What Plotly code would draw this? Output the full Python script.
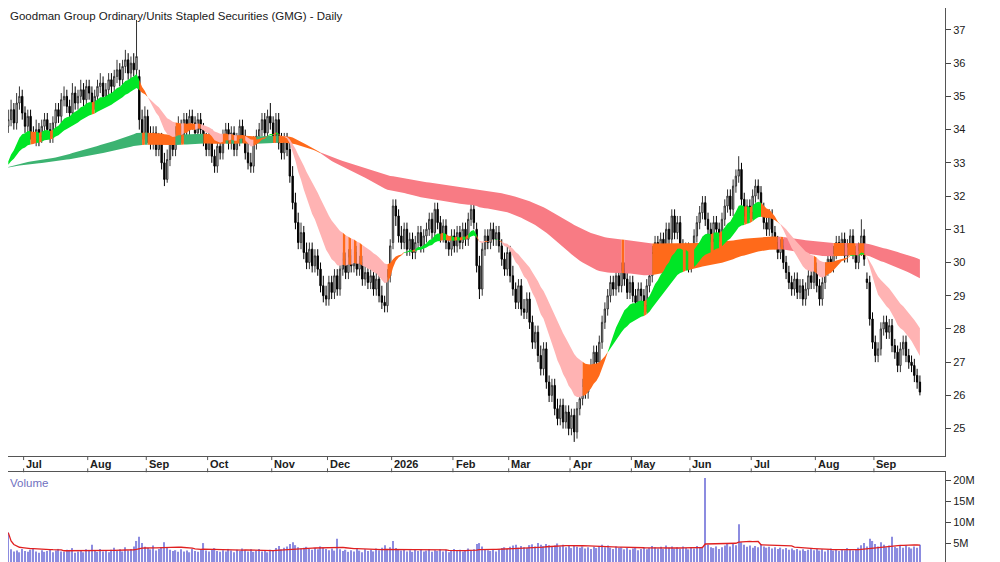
import pandas as pd
import plotly.graph_objects as go

title = "Goodman Group Ordinary/Units Stapled Securities (GMG) - Daily"
start_date = "2025-06-23"
ema_seed = 32.85

closes = [
    34.3, 34.6, 34.2, 34.8, 35.0, 34.5, 34.1, 34.4, 33.9, 33.8,
    34.0, 33.7, 34.1, 34.3, 34.0, 33.8, 34.2, 34.6, 34.4, 34.9,
    35.0, 34.7, 34.5, 35.1, 34.8, 35.0, 35.2, 34.9, 35.3, 35.1,
    34.8, 35.0, 35.3, 35.4, 35.0, 35.2, 35.5, 35.3, 35.6, 35.8,
    35.5, 35.9, 36.1, 35.7, 36.0, 35.8, 36.2, 34.3, 33.9, 34.4,
    33.8, 33.6, 33.9, 33.4, 33.7, 33.0, 32.5, 33.1, 33.6, 33.4,
    33.9, 34.1, 33.8, 34.3, 34.0, 34.4, 34.2, 33.9, 34.3, 34.0,
    33.7, 33.4, 33.8, 33.2, 32.9, 33.5, 33.3, 33.8, 34.0, 33.6,
    33.9, 33.4, 33.7, 34.1, 33.8, 33.3, 33.0, 32.9, 33.6, 33.8,
    34.0, 34.3, 33.9, 34.4, 34.2, 33.8, 34.3, 33.6, 33.3, 33.7,
    33.4, 32.6, 31.8, 31.2, 30.6, 30.9, 30.3, 30.0, 30.4, 29.9,
    30.2, 29.8, 29.3, 29.0, 28.9, 29.4, 29.1, 29.6, 29.2, 29.8,
    30.1, 29.7, 30.2, 29.9, 30.3, 29.8, 30.0, 29.5, 29.7, 29.4,
    29.6, 29.2, 29.5, 29.0, 28.8, 28.7, 29.6, 30.5, 31.7, 31.4,
    30.8, 30.6, 31.0, 30.4, 30.7, 30.3, 30.6, 30.9, 30.5, 30.8,
    31.0, 31.3, 30.9, 31.6, 31.2, 30.8, 31.1, 30.6, 30.4, 30.8,
    30.5, 30.9, 30.6, 31.0, 30.7, 31.3, 31.6, 31.2, 29.9, 29.2,
    30.4, 30.8, 30.6, 31.0, 30.7, 30.9, 30.5, 30.1, 29.8, 30.3,
    29.6, 29.2, 28.8, 29.3, 28.6, 28.5, 28.9, 28.2, 27.6, 27.9,
    27.2, 26.8, 27.4, 26.4, 26.0, 26.3, 25.6, 25.3, 25.7, 25.2,
    25.5, 25.0, 25.4, 24.9, 25.6, 25.9, 26.3, 26.1, 26.7, 26.9,
    27.3, 27.0, 27.6, 28.2, 28.6, 29.0, 29.4, 29.2, 29.6, 29.3,
    29.8, 29.5, 29.1, 29.4, 29.0, 28.8, 29.2, 29.0, 28.7, 29.3,
    29.6, 30.3, 30.6, 30.2, 30.7, 30.4, 31.0, 30.7, 31.4, 30.9,
    31.2, 30.5, 30.1, 30.4, 29.9, 30.3, 30.8, 31.2, 31.5, 31.8,
    31.3, 31.0, 30.7, 31.2, 31.0, 30.8, 31.3, 31.7, 32.0, 31.6,
    32.3, 32.6, 32.8, 31.9, 31.4, 31.7, 31.5, 32.0, 32.3, 32.1,
    31.6, 31.2, 31.0, 31.4, 30.9, 30.6, 30.3, 30.5, 30.0, 29.7,
    29.4, 29.2, 29.5, 29.1, 29.3, 28.9, 29.2, 29.6, 29.4, 29.8,
    29.3, 28.9, 29.4, 29.8, 30.1, 29.9, 30.3, 30.6, 30.4, 30.7,
    30.2, 30.5, 30.8, 30.3, 30.0, 30.4, 30.8, 30.1, 29.4, 28.3,
    27.6, 27.2, 27.4, 28.0, 28.2, 27.9, 28.1, 27.5, 27.3, 26.9,
    27.4, 27.6, 27.2, 27.0, 26.9, 26.6, 26.4, 26.1,
]

opens = [
    34.1, 34.3, 34.6, 34.2, 34.8, 35.0, 34.5, 34.1, 34.4, 33.9,
    33.7, 34.0, 33.8, 34.1, 34.3, 34.0, 33.8, 34.2, 34.6, 34.4,
    34.9, 35.0, 34.7, 34.5, 35.1, 34.8, 35.0, 35.2, 34.9, 35.3,
    35.1, 34.8, 35.0, 35.3, 35.4, 35.0, 35.2, 35.5, 35.3, 35.6,
    35.8, 35.5, 35.9, 36.1, 35.7, 36.0, 35.8, 35.6, 34.3, 33.9,
    34.4, 33.8, 33.6, 33.9, 33.4, 33.7, 33.0, 32.5, 33.1, 33.6,
    33.4, 33.9, 34.1, 33.8, 34.3, 34.0, 34.4, 34.2, 33.9, 34.3,
    34.0, 33.7, 33.4, 33.8, 33.2, 32.9, 33.5, 33.3, 33.8, 34.0,
    33.6, 33.9, 33.4, 33.7, 34.1, 33.8, 33.3, 33.0, 32.9, 33.6,
    33.8, 34.0, 34.3, 33.9, 34.4, 34.2, 33.8, 34.3, 33.6, 33.3,
    33.7, 33.4, 32.6, 31.8, 31.2, 30.6, 30.9, 30.3, 30.0, 30.4,
    29.9, 30.2, 29.8, 29.3, 29.0, 28.9, 29.4, 29.1, 29.6, 29.2,
    29.8, 30.1, 29.7, 30.2, 29.9, 30.3, 29.8, 30.0, 29.5, 29.7,
    29.4, 29.6, 29.2, 29.5, 29.0, 28.8, 28.7, 29.6, 30.6, 31.7,
    31.4, 30.8, 30.6, 31.0, 30.4, 30.7, 30.3, 30.6, 30.9, 30.5,
    30.8, 31.0, 31.3, 30.9, 31.6, 31.2, 30.8, 31.1, 30.6, 30.4,
    30.8, 30.5, 30.9, 30.6, 31.0, 30.7, 31.3, 31.6, 31.0, 29.9,
    29.2, 30.4, 30.8, 30.6, 31.0, 30.7, 30.9, 30.5, 30.1, 29.8,
    30.3, 29.6, 29.2, 28.8, 29.3, 28.6, 28.5, 28.9, 28.2, 27.6,
    27.9, 27.2, 26.8, 27.4, 26.4, 26.0, 26.3, 25.6, 25.3, 25.7,
    25.2, 25.5, 25.0, 25.4, 24.9, 25.6, 25.9, 26.3, 26.1, 26.7,
    26.9, 27.3, 27.0, 27.6, 28.2, 28.6, 29.0, 29.4, 29.2, 29.6,
    29.3, 29.8, 29.5, 29.1, 29.4, 29.0, 28.8, 29.2, 29.0, 28.7,
    29.3, 29.6, 30.3, 30.6, 30.2, 30.7, 30.4, 31.0, 30.7, 31.4,
    30.9, 31.2, 30.5, 30.1, 30.4, 29.9, 30.3, 30.8, 31.2, 31.5,
    31.8, 31.3, 31.0, 30.7, 31.2, 31.0, 30.8, 31.3, 31.7, 32.0,
    31.6, 32.3, 32.6, 32.8, 31.9, 31.4, 31.7, 31.5, 32.0, 32.3,
    32.1, 31.6, 31.2, 31.0, 31.4, 30.9, 30.6, 30.3, 30.5, 30.0,
    29.7, 29.4, 29.2, 29.5, 29.1, 29.3, 28.9, 29.2, 29.6, 29.4,
    29.8, 29.3, 28.9, 29.4, 29.8, 30.1, 29.9, 30.3, 30.6, 30.4,
    30.7, 30.2, 30.5, 30.8, 30.3, 30.0, 30.4, 30.8, 29.5, 29.4,
    28.3, 27.6, 27.2, 27.4, 28.0, 28.2, 27.9, 28.1, 27.5, 27.3,
    26.9, 27.4, 27.6, 27.2, 27.0, 26.9, 26.6, 26.4,
]

highs = [
    34.6, 34.9, 34.8, 35.1, 35.3, 35.2, 34.7, 34.6, 34.6, 34.1,
    34.3, 34.2, 34.3, 34.5, 34.5, 34.2, 34.4, 34.8, 34.8, 35.1,
    35.3, 35.2, 34.9, 35.4, 35.3, 35.2, 35.5, 35.4, 35.5, 35.5,
    35.3, 35.2, 35.5, 35.7, 35.6, 35.4, 35.7, 35.7, 35.8, 36.1,
    36.0, 36.1, 36.4, 36.3, 36.2, 36.3, 37.3, 35.8, 34.6, 34.7,
    34.6, 34.1, 34.1, 34.1, 33.9, 33.9, 33.3, 33.4, 33.8, 33.9,
    34.1, 34.4, 34.3, 34.5, 34.5, 34.6, 34.6, 34.4, 34.5, 34.5,
    34.2, 33.9, 34.0, 34.0, 33.4, 33.7, 33.7, 34.0, 34.2, 34.2,
    34.1, 34.1, 33.9, 34.3, 34.3, 34.0, 33.6, 33.3, 33.8, 34.0,
    34.2, 34.5, 34.5, 34.6, 34.8, 34.4, 34.5, 34.5, 33.9, 33.9,
    33.9, 33.6, 32.9, 32.1, 31.5, 31.2, 31.1, 30.6, 30.6, 30.6,
    30.4, 30.4, 30.0, 29.6, 29.3, 29.6, 29.6, 29.8, 29.8, 30.0,
    30.3, 30.3, 30.4, 30.4, 30.5, 30.5, 30.2, 30.2, 29.9, 29.9,
    29.8, 29.8, 29.7, 29.7, 29.3, 29.0, 29.8, 30.7, 31.9, 31.9,
    31.6, 31.1, 31.2, 31.2, 30.9, 30.9, 30.8, 31.1, 31.1, 31.0,
    31.2, 31.5, 31.5, 31.8, 31.8, 31.4, 31.3, 31.3, 30.8, 31.0,
    31.0, 31.1, 31.1, 31.2, 31.2, 31.5, 31.8, 31.8, 31.2, 30.2,
    30.6, 31.0, 31.0, 31.2, 31.2, 31.1, 31.1, 30.7, 30.3, 30.5,
    30.5, 29.9, 29.4, 29.5, 29.5, 28.9, 29.1, 29.1, 28.4, 28.1,
    28.1, 27.5, 27.6, 27.6, 26.6, 26.5, 26.5, 25.9, 25.9, 25.9,
    25.7, 25.7, 25.6, 25.6, 25.8, 26.1, 26.5, 26.5, 26.9, 27.1,
    27.5, 27.5, 27.8, 28.4, 28.8, 29.2, 29.6, 29.6, 29.8, 29.8,
    30.0, 30.0, 29.7, 29.6, 29.6, 29.2, 29.4, 29.4, 29.2, 29.5,
    29.8, 30.5, 30.8, 30.8, 30.9, 30.9, 31.2, 31.2, 31.6, 31.6,
    31.4, 31.4, 30.7, 30.6, 30.6, 30.5, 31.0, 31.4, 31.7, 32.0,
    32.0, 31.5, 31.2, 31.4, 31.4, 31.2, 31.5, 31.9, 32.2, 32.2,
    32.5, 32.8, 33.2, 33.0, 32.1, 31.9, 31.9, 32.2, 32.5, 32.5,
    32.3, 31.8, 31.4, 31.6, 31.6, 31.1, 30.8, 30.7, 30.7, 30.2,
    29.9, 29.6, 29.7, 29.7, 29.5, 29.5, 29.4, 29.8, 29.8, 30.0,
    30.0, 29.5, 29.6, 30.0, 30.3, 30.3, 30.5, 30.8, 30.8, 30.9,
    30.9, 30.7, 31.0, 31.0, 30.5, 30.6, 31.3, 31.0, 29.7, 29.6,
    28.5, 27.8, 27.6, 28.2, 28.4, 28.4, 28.3, 28.3, 27.7, 27.5,
    27.6, 27.8, 27.8, 27.4, 27.2, 27.1, 26.8, 26.6,
]

lows = [
    33.9, 34.1, 34.0, 34.0, 34.6, 34.3, 33.9, 33.9, 33.7, 33.6,
    33.5, 33.5, 33.6, 33.9, 33.8, 33.6, 33.6, 34.0, 34.2, 34.2,
    34.7, 34.5, 34.3, 34.3, 34.6, 34.6, 34.8, 34.7, 34.7, 34.9,
    34.6, 34.6, 34.8, 35.1, 34.8, 34.8, 35.0, 35.1, 35.1, 35.4,
    35.3, 35.3, 35.7, 35.5, 35.5, 35.6, 35.6, 34.0, 33.7, 33.7,
    33.6, 33.4, 33.4, 33.2, 33.2, 32.8, 32.3, 32.4, 32.9, 33.2,
    33.2, 33.7, 33.6, 33.6, 33.8, 33.8, 34.0, 33.7, 33.7, 33.8,
    33.5, 33.2, 33.2, 33.0, 32.7, 32.7, 33.1, 33.1, 33.6, 33.4,
    33.4, 33.2, 33.2, 33.5, 33.6, 33.1, 32.8, 32.7, 32.7, 33.4,
    33.6, 33.8, 33.7, 33.7, 34.0, 33.6, 33.6, 33.4, 33.1, 33.1,
    33.2, 32.4, 31.6, 31.0, 30.4, 30.4, 30.1, 29.8, 29.8, 29.7,
    29.7, 29.6, 29.1, 28.8, 28.7, 28.7, 28.9, 28.9, 29.0, 29.0,
    29.6, 29.5, 29.5, 29.7, 29.7, 29.6, 29.6, 29.3, 29.3, 29.2,
    29.2, 29.0, 29.0, 28.8, 28.6, 28.5, 28.5, 29.4, 30.4, 31.1,
    30.6, 30.4, 30.4, 30.2, 30.2, 30.1, 30.1, 30.4, 30.3, 30.3,
    30.6, 30.8, 30.7, 30.7, 31.0, 30.6, 30.6, 30.4, 30.2, 30.2,
    30.3, 30.3, 30.4, 30.4, 30.5, 30.5, 31.1, 31.0, 29.7, 28.9,
    29.0, 30.2, 30.4, 30.4, 30.5, 30.5, 30.3, 29.9, 29.6, 29.6,
    29.4, 29.0, 28.6, 28.6, 28.4, 28.3, 28.3, 28.0, 27.4, 27.4,
    27.0, 26.6, 26.6, 26.2, 25.8, 25.8, 25.4, 25.1, 25.1, 25.0,
    25.0, 24.8, 24.8, 24.6, 24.7, 25.4, 25.7, 25.9, 25.9, 26.5,
    26.7, 26.8, 26.8, 27.4, 28.0, 28.4, 28.8, 29.0, 29.0, 29.1,
    29.1, 29.3, 28.9, 28.9, 28.8, 28.6, 28.6, 28.8, 28.5, 28.5,
    29.1, 29.4, 30.1, 30.0, 30.0, 30.2, 30.2, 30.5, 30.5, 30.7,
    30.7, 30.3, 29.9, 29.9, 29.7, 29.7, 30.1, 30.6, 31.0, 31.3,
    31.1, 30.8, 30.5, 30.5, 30.8, 30.6, 30.6, 31.1, 31.5, 31.4,
    31.4, 32.1, 32.4, 31.7, 31.2, 31.2, 31.3, 31.3, 31.8, 31.9,
    31.4, 31.0, 30.8, 30.8, 30.7, 30.4, 30.1, 30.1, 29.8, 29.5,
    29.2, 29.0, 29.0, 28.9, 28.9, 28.7, 28.7, 29.0, 29.2, 29.2,
    29.1, 28.7, 28.7, 29.2, 29.6, 29.7, 29.7, 30.1, 30.2, 30.2,
    30.0, 30.0, 30.3, 30.1, 29.8, 29.8, 30.2, 29.9, 29.2, 28.1,
    27.4, 27.0, 27.0, 27.2, 27.8, 27.7, 27.7, 27.3, 27.1, 26.7,
    26.7, 27.2, 27.0, 26.8, 26.7, 26.4, 26.2, 26.0,
]

# volume in millions
volumes = [
    7.5, 3.5, 3.0, 3.2, 2.8, 3.6, 3.1, 2.9, 3.4, 3.8,
    3.0, 2.7, 3.3, 2.9, 3.1, 3.5, 2.8, 3.2, 3.6, 3.0,
    2.9, 3.4, 3.1, 3.8, 2.7, 3.0, 3.3, 2.8, 3.5, 3.1,
    4.6, 3.2, 2.9, 3.6, 3.0, 3.3, 2.8, 3.4, 3.9, 3.1,
    3.5, 3.0, 4.0, 3.2, 3.6, 4.2, 5.5, 6.5, 5.0, 4.1,
    3.8, 3.5, 4.4, 3.2, 3.6, 4.0, 5.2, 3.9, 3.4, 3.1,
    3.3, 2.9, 3.5, 3.0, 3.2, 2.8, 3.6, 3.1, 2.9, 3.4,
    5.0, 3.2, 3.0, 3.5, 3.8, 3.1, 2.9, 3.3, 3.0, 3.6,
    3.2, 2.8, 3.4, 3.1, 3.7, 3.3, 3.0, 3.5, 2.9, 3.2,
    3.6, 3.0, 3.3, 2.8, 3.4, 3.1, 3.8, 4.3, 3.5, 3.9,
    4.2, 4.8, 5.2, 4.5, 4.0, 3.7, 3.9, 4.1, 3.6, 3.4,
    3.8, 3.5, 4.2, 3.9, 3.6, 3.3, 3.7, 3.2, 6.0, 3.5,
    3.1, 3.4, 2.9, 3.3, 3.0, 3.6, 3.2, 2.8, 3.5, 3.1,
    3.4, 3.0, 3.7, 3.3, 3.9, 4.5, 3.6, 4.0, 5.5, 3.8,
    3.5, 3.2, 3.6, 3.0, 3.3, 2.9, 3.4, 3.1, 3.5, 3.0,
    3.2, 3.6, 2.9, 3.3, 3.1, 3.5, 3.0, 3.4, 2.8, 3.2,
    3.6, 3.1, 3.4, 3.0, 3.3, 3.7, 3.2, 3.5, 4.8, 5.0,
    4.2, 3.6, 3.3, 3.1, 3.4, 3.0, 3.5, 3.8, 4.0, 3.6,
    4.1, 4.4, 4.6, 3.9, 4.3, 4.0, 3.8, 4.5, 4.7, 4.2,
    5.0, 4.6, 4.3, 4.8, 4.5, 4.1, 4.4, 4.9, 4.2, 4.6,
    4.0, 4.3, 3.8, 4.5, 4.1, 3.9, 4.2, 3.7, 4.0, 3.6,
    4.1, 3.8, 4.3, 4.6, 4.0, 4.4, 3.9, 3.6, 4.2, 3.8,
    4.0, 3.5, 3.8, 3.4, 3.7, 3.9, 3.3, 3.6, 4.0, 3.5,
    3.8, 4.3, 4.0, 3.7, 4.1, 3.6, 4.4, 3.9, 4.2, 3.7,
    4.0, 3.6, 4.2, 3.8, 3.5, 4.0, 3.7, 4.3, 3.9, 4.1,
    20.5, 4.6, 4.0, 3.8, 4.2, 3.6, 4.0, 4.4, 4.8, 4.2,
    5.0, 4.5, 9.5, 5.2, 4.6, 4.1, 4.4, 3.9, 4.3, 4.0,
    4.8, 4.2, 3.9, 4.1, 3.7, 4.0, 3.6, 3.9, 3.5, 3.8,
    3.4, 3.7, 3.3, 3.6, 3.2, 3.5, 3.1, 3.4, 3.8, 3.3,
    3.6, 3.2, 3.5, 3.0, 3.4, 3.7, 3.2, 3.6, 3.1, 3.5,
    3.3, 3.8, 3.4, 3.2, 3.6, 3.9, 4.5, 5.0, 4.2, 6.0,
    5.5, 4.8, 4.2, 5.2, 4.6, 4.0, 4.4, 6.5, 4.1, 3.8,
    4.3, 3.9, 4.5, 4.0, 3.7, 4.2, 3.9, 4.6,
]

n = len(closes)
x = list(range(n))
dates = pd.bdate_range(start_date, periods=n)


def ema(span, seed):
    out, prev, k = [], seed, 2 / (span + 1)
    for c in closes:
        prev = prev + k * (c - prev)
        out.append(prev)
    return out


short_fast, short_slow = ema(14, ema_seed), ema(30, ema_seed)
long_fast, long_slow = ema(140, ema_seed), ema(240, ema_seed)


def ribbon(fig, fast, slow, up_col, mid_col, down_col):
    cols = []
    for i in range(n):
        rising = fast[i] >= (fast[i - 1] if i > 0 else fast[i])
        above = fast[i] >= slow[i]
        if above and rising:
            cols.append(up_col)
        elif not above and not rising:
            cols.append(down_col)
        else:
            cols.append(mid_col)
    start = 0
    for i in range(1, n + 1):
        if i == n or cols[i] != cols[start]:
            end = min(i, n - 1)
            xs = x[start:end + 1]
            hi = [max(fast[j], slow[j]) for j in xs]
            lo = [min(fast[j], slow[j]) for j in xs]
            fig.add_trace(go.Scatter(
                x=xs + xs[::-1], y=hi + lo[::-1], fill='toself', mode='lines',
                line=dict(width=0, color=cols[start]), fillcolor=cols[start],
                hoverinfo='skip', showlegend=False, yaxis='y'))
            start = i


fig = go.Figure()
ribbon(fig, long_fast, long_slow, '#3cb371', '#ff6a1a', '#f87b84')
ribbon(fig, short_fast, short_slow, '#00e626', '#ff6a1a', '#ffb3b3')

fig.add_trace(go.Candlestick(
    x=x, open=opens, high=highs, low=lows, close=closes,
    increasing=dict(line=dict(color='#333333', width=1), fillcolor='#dcdcdc'),
    decreasing=dict(line=dict(color='#000000', width=1), fillcolor='#000000'),
    whiskerwidth=0, showlegend=False, yaxis='y'))

vol_avg = pd.Series(volumes).rolling(20, min_periods=1).mean()
fig.add_trace(go.Bar(x=x, y=volumes, marker=dict(color='#8c8ce0', line=dict(width=0)),
                     width=0.45, showlegend=False, yaxis='y2', xaxis='x2'))
fig.add_trace(go.Scatter(x=x, y=vol_avg, mode='lines', line=dict(color='#e02020', width=1.3),
                         showlegend=False, yaxis='y2', xaxis='x2'))

# month ticks
month_idx, month_txt = [], []
for i in range(1, n):
    if dates[i].month != dates[i - 1].month:
        month_idx.append(i)
        month_txt.append('2026' if dates[i].month == 1 else dates[i].strftime('%b'))

price_bottom, vol_top = 0.191, 0.162
shapes = []
for i in month_idx:
    shapes.append(dict(type='line', xref='x', yref='paper', x0=i - 0.5, x1=i - 0.5,
                       y0=price_bottom, y1=price_bottom - 0.007, line=dict(color='#555555', width=1)))
    shapes.append(dict(type='line', xref='x', yref='paper', x0=i - 0.5, x1=i - 0.5,
                       y0=vol_top, y1=vol_top + 0.007, line=dict(color='#555555', width=1)))

annotations = [
    dict(text=title, x=0.0, y=1.0, xref='paper', yref='paper', xanchor='left', yanchor='top',
         showarrow=False, font=dict(size=11.5, color='#202020')),
    dict(text='Volume', x=0.0, y=vol_top - 0.005, xref='paper', yref='paper', xanchor='left',
         yanchor='top', showarrow=False, font=dict(size=11.5, color='#7070c0')),
]
for i, t in zip(month_idx, month_txt):
    annotations.append(dict(text='<b>' + t + '</b>', x=i - 0.3, y=(price_bottom + vol_top) / 2,
                            xref='x', yref='paper', xanchor='left', yanchor='middle',
                            showarrow=False, font=dict(size=11, color='#202020')))

xr = [-0.1, 336]
fig.update_layout(
    width=992, height=554, margin=dict(l=0, r=55, t=0, b=0),
    paper_bgcolor='white', plot_bgcolor='white',
    font=dict(family='Liberation Sans, Arial', size=11, color='#202020'),
    xaxis=dict(range=xr, domain=[0, 1], anchor='y', showticklabels=False, showgrid=False,
               zeroline=False, showline=True, linecolor='#555555', rangeslider=dict(visible=False)),
    xaxis2=dict(range=xr, domain=[0, 1], anchor='y2', showticklabels=False, showgrid=False,
                zeroline=False, showline=True, linecolor='#555555', side='top'),
    yaxis=dict(domain=[price_bottom, 1], range=[24.17, 37.66], side='right', anchor='x',
               tickvals=list(range(25, 38)), ticks='outside', ticklen=5, showgrid=False,
               zeroline=False, showline=True, linecolor='#555555'),
    yaxis2=dict(domain=[0, vol_top], range=[0.48, 21.9], side='right', anchor='x2',
                tickvals=[5, 10, 15, 20], ticktext=['5M', '10M', '15M', '20M'], ticks='outside',
                ticklen=5, showgrid=False, zeroline=False, showline=True, linecolor='#555555'),
    shapes=shapes, annotations=annotations, bargap=0.5,
)

fig.write_html("out.html")
